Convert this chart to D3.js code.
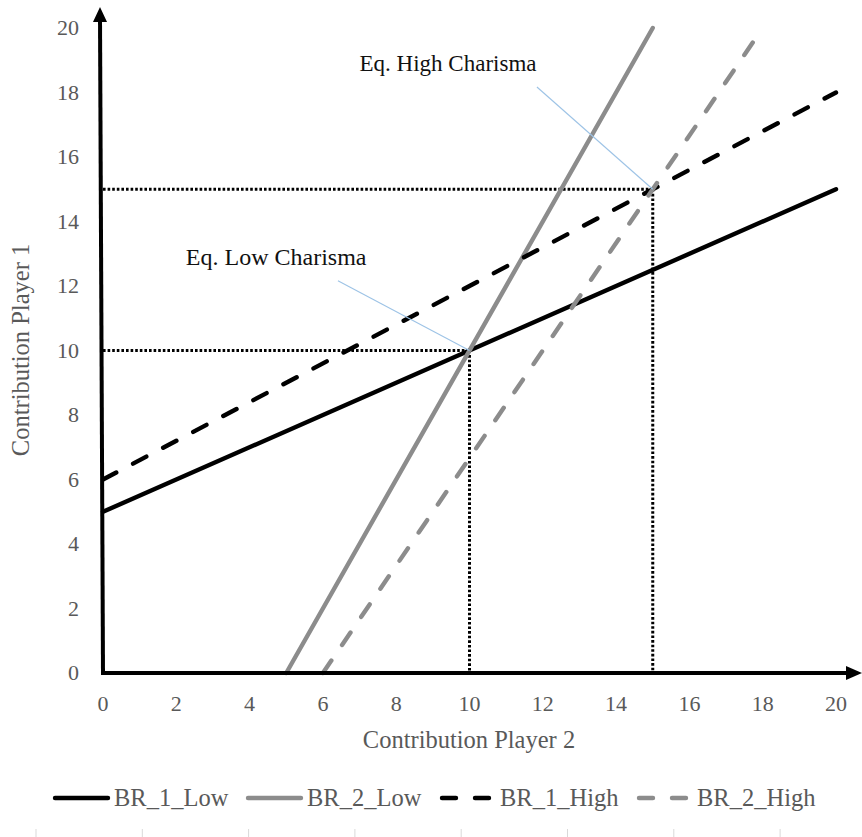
<!DOCTYPE html>
<html><head><meta charset="utf-8">
<script src="https://cdn.jsdelivr.net/npm/d3@7"></script>
<style>body{margin:0;background:#fff}svg{display:block}</style>
</head><body>
<svg id="chart" width="862" height="837"></svg>
<script>
// ---- data ----
const xTicks = [0,2,4,6,8,10,12,14,16,18,20];
const yTicks = [0,2,4,6,8,10,12,14,16,18,20];
const seriesNames = ["BR_1_Low","BR_2_Low","BR_1_High","BR_2_High"];
// endpoints of each best-response line [x (Player 2), y (Player 1)]
const br1Low  = [[0,5],[20,15]];
const br2Low  = [[5,0],[15,20]];
const br1High = [[0,6],[20,18]];
const br2High = [[6,0],[18,20]];
const eqLow  = [10,10];
const eqHigh = [15,15];
const annotations = [
  {text:"Eq. High Charisma", tx:7.0,  ty:18.67, lx:11.84, ly:18.17, pt:eqHigh, size:23},
  {text:"Eq. Low Charisma",  tx:2.26, ty:12.65, lx:6.41,  ly:12.16, pt:eqLow,  size:24}
];

// ---- scales ----
const svg = d3.select("#chart");
const x = d3.scaleLinear().domain([0,20]).range([103,836]);
const y = d3.scaleLinear().domain([0,20]).range([673,28]);
const font = "Liberation Serif, Tinos, Times New Roman, DejaVu Serif, serif";
const grayTxt = "#595959";

// tick labels
svg.append("g").selectAll("text").data(xTicks).join("text")
  .attr("x", d=>x(d)).attr("y", 711).attr("text-anchor","middle")
  .style("font-family",font).attr("font-size",22).attr("fill",grayTxt).text(d=>d);
svg.append("g").selectAll("text").data(yTicks).join("text")
  .attr("x", 79).attr("y", d=>y(d)+7).attr("text-anchor","end")
  .style("font-family",font).attr("font-size",22).attr("fill",grayTxt).text(d=>d);

// axis titles
svg.append("text").attr("x",469).attr("y",748).attr("text-anchor","middle")
  .style("font-family",font).attr("font-size",24.5).attr("fill",grayTxt).text("Contribution Player 2");
svg.append("text").attr("transform","translate(29,350) rotate(-90)").attr("text-anchor","middle")
  .style("font-family",font).attr("font-size",24.5).attr("fill",grayTxt).text("Contribution Player 1");

// dotted guide lines
const dotted = [
  [[0,eqLow[1]],eqLow],[eqLow,[eqLow[0],0]],
  [[0,eqHigh[1]],eqHigh],[eqHigh,[eqHigh[0],0]]
];
const line = d3.line().x(d=>x(d[0])).y(d=>y(d[1]));
svg.append("g").selectAll("path").data(dotted).join("path")
  .attr("d", line).attr("stroke","#000").attr("stroke-width",3)
  .attr("stroke-dasharray","2.6,2").attr("fill","none");

// series lines
const styles = [
  {data:br1Low,  color:"#000",    dash:null},
  {data:br2Low,  color:"#8c8c8c", dash:null},
  {data:br1High, color:"#000",    dash:"15,19"},
  {data:br2High, color:"#8c8c8c", dash:"15,19"}
];
svg.append("g").selectAll("path").data(styles).join("path")
  .attr("d", d=>line(d.data)).attr("stroke",d=>d.color).attr("stroke-width",4.4)
  .attr("stroke-linecap","round").attr("stroke-dasharray",d=>d.dash).attr("fill","none");

// axes with arrows
svg.append("line").attr("x1",x(0)).attr("y1",y(0)).attr("x2",x(0)-3).attr("y2",18)
  .attr("stroke","#000").attr("stroke-width",4);
svg.append("path").attr("d",`M${x(0)-3-7},${22} L${x(0)-3},${7} L${x(0)-3+7},${22} Z`).attr("fill","#000");
svg.append("line").attr("x1",x(0)-2).attr("y1",y(0)).attr("x2",850).attr("y2",y(0))
  .attr("stroke","#000").attr("stroke-width",4);
svg.append("path").attr("d",`M846,${y(0)-7} L862,${y(0)} L846,${y(0)+7} Z`).attr("fill","#000");

// annotations
annotations.forEach(a=>{
  svg.append("line").attr("x1",x(a.lx)).attr("y1",y(a.ly)).attr("x2",x(a.pt[0])).attr("y2",y(a.pt[1]))
    .attr("stroke","#9dc3e6").attr("stroke-width",1.1);
  svg.append("text").attr("x",x(a.tx)).attr("y",y(a.ty)).style("font-family",font)
    .attr("font-size",a.size).attr("fill","#111").text(a.text);
});

// legend
const legX = [55,248,440,637];
const lg = svg.append("g").selectAll("g").data(styles).join("g")
  .attr("transform",(d,i)=>`translate(${legX[i]},798)`);
lg.append("line").attr("x1",d=>d.dash?2:0).attr("x2",d=>d.dash?50:53).attr("y1",0).attr("y2",0)
  .attr("stroke",d=>d.color).attr("stroke-width",4.4).attr("stroke-linecap","round")
  .attr("stroke-dasharray",d=>d.dash?"14,19":null);
lg.append("text").attr("x",(d,i)=>i>=2?60:59).attr("y",8).style("font-family",font)
  .attr("font-size",24.5).attr("fill",grayTxt).text((d,i)=>seriesNames[i]);

// faint bottom ticks
const botTicks = d3.range(8);
svg.append("g").selectAll("line").data(botTicks).join("line")
  .attr("x1",d=>36+d*106.3).attr("x2",d=>36+d*106.3).attr("y1",829).attr("y2",837)
  .attr("stroke","#d9d9d9").attr("stroke-width",1);
</script>
</body></html>
